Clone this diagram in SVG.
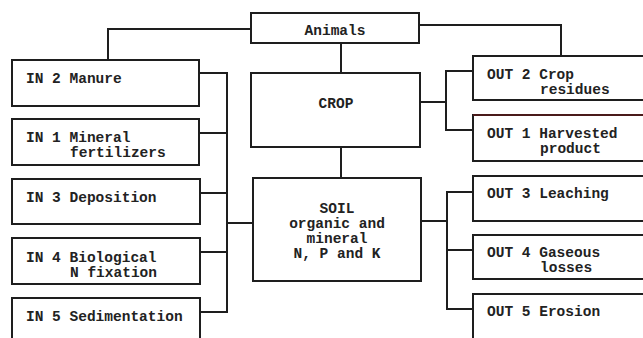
<svg xmlns="http://www.w3.org/2000/svg" width="643" height="338" viewBox="0 0 643 338">
<style>
.box{fill:#fff;stroke:#1e1e1e;stroke-width:2}
.ln{fill:none;stroke:#1e1e1e;stroke-width:2}
text{font-family:"Liberation Mono","Courier New",monospace;font-weight:bold;font-size:14.5px;fill:#222}
.c{text-anchor:middle}
</style>
<rect width="643" height="338" fill="#fff"/>
<g id="connectors">
<polyline class="ln" points="251,29 108,29 108,60"/>
<polyline class="ln" points="419,25 561,25 561,56"/>
<line class="ln" x1="341" y1="43" x2="341" y2="73"/>
<line class="ln" x1="341" y1="147" x2="341" y2="178"/>
<line class="ln" x1="199" y1="73" x2="227" y2="73"/>
<line class="ln" x1="199" y1="133" x2="227" y2="133"/>
<line class="ln" x1="200" y1="193" x2="227" y2="193"/>
<line class="ln" x1="200" y1="252" x2="227" y2="252"/>
<line class="ln" x1="200" y1="312" x2="227" y2="312"/>
<line class="ln" x1="227" y1="72" x2="227" y2="313"/>
<line class="ln" x1="227" y1="223" x2="253" y2="223"/>
<line class="ln" x1="420" y1="102" x2="446" y2="102"/>
<polyline class="ln" points="473,71 446,71 446,130 473,130"/>
<line class="ln" x1="421" y1="221" x2="447" y2="221"/>
<polyline class="ln" points="473,192 447,192 447,309 473,309"/>
<line class="ln" x1="447" y1="250" x2="473" y2="250"/>
</g>
<g id="animals"><rect class="box" x="251" y="13" width="168" height="30"/><text class="c" x="335" y="35">Animals</text></g>
<g id="crop"><rect class="box" x="251" y="73" width="169" height="74"/><text class="c" x="336" y="108">CROP</text></g>
<g id="soil"><rect class="box" x="253" y="178" width="168" height="103"/>
<text class="c" x="337" y="213">SOIL</text>
<text class="c" x="337" y="228">organic and</text>
<text class="c" x="337" y="243">mineral</text>
<text class="c" x="337" y="258">N, P and K</text></g>
<g id="in2"><rect class="box" x="12" y="60" width="187" height="46"/><text x="26" y="83">IN 2 Manure</text></g>
<g id="in1"><rect class="box" x="12" y="119" width="187" height="46"/><text x="26" y="142">IN 1 Mineral</text><text x="70" y="157">fertilizers</text></g>
<g id="in3"><rect class="box" x="12" y="179" width="188" height="45"/><text x="26" y="202">IN 3 Deposition</text></g>
<g id="in4"><rect class="box" x="12" y="238" width="188" height="46"/><text x="26" y="262">IN 4 Biological</text><text x="70" y="277">N fixation</text></g>
<g id="in5"><rect class="box" x="12" y="298" width="188" height="50"/><text x="26" y="321">IN 5 Sedimentation</text></g>
<g id="out2"><rect class="box" x="473" y="56" width="180" height="44"/><text x="487" y="79">OUT 2 Crop</text><text x="540" y="94">residues</text></g>
<g id="out1"><rect class="box" x="473" y="115" width="180" height="46"/><line x1="473" y1="115" x2="643" y2="115" stroke="#4a1a1a" stroke-width="2"/><text x="487" y="138">OUT 1 Harvested</text><text x="540" y="153">product</text></g>
<g id="out3"><rect class="box" x="473" y="176" width="180" height="45"/><text x="487" y="198">OUT 3 Leaching</text></g>
<g id="out4"><rect class="box" x="473" y="235" width="180" height="44"/><text x="487" y="257">OUT 4 Gaseous</text><text x="540" y="272">losses</text></g>
<g id="out5"><rect class="box" x="473" y="294" width="180" height="50"/><text x="487" y="316">OUT 5 Erosion</text></g>
</svg>
